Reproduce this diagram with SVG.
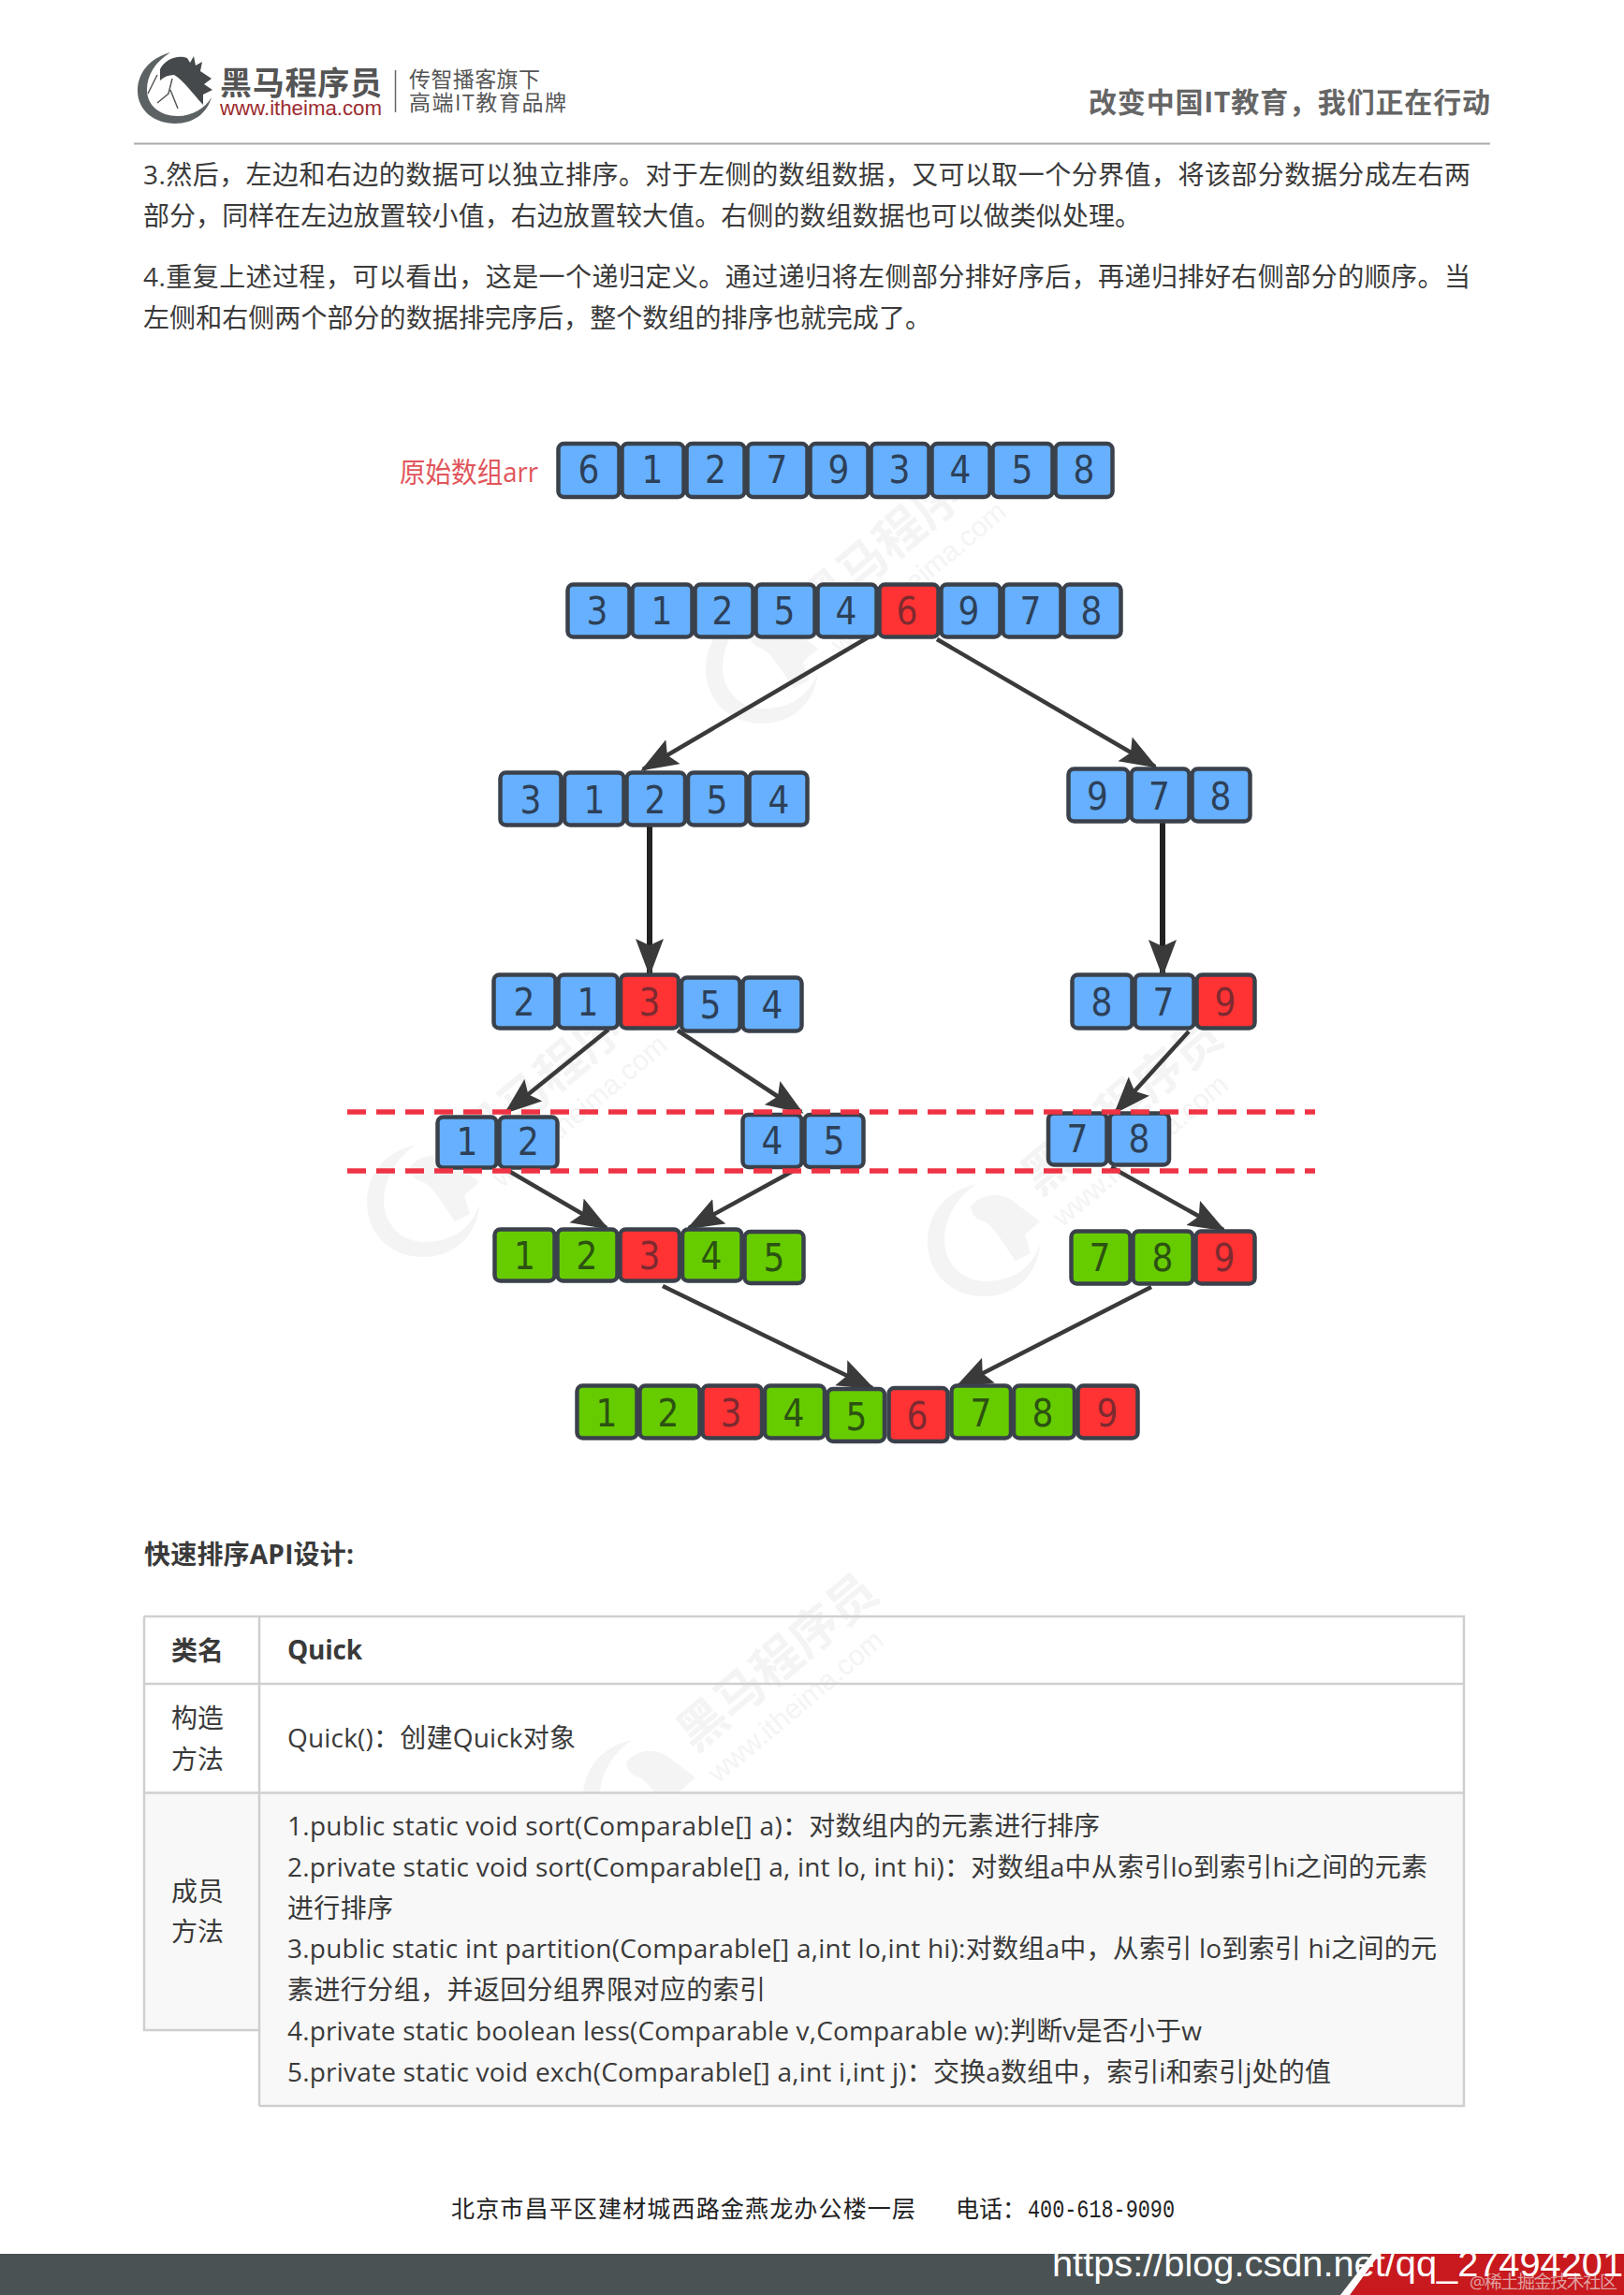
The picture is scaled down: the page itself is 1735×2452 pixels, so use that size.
<svg xmlns="http://www.w3.org/2000/svg" xmlns:xlink="http://www.w3.org/1999/xlink" width="1735" height="2452" viewBox="0 0 1735 2452">
<style>
text{font-family:"Open Sans","Noto Sans CJK SC",sans-serif;fill:#3a3a3a}
.body{font-size:28px}
.b{font-weight:700}
.m{text-anchor:middle}
.cell{stroke:#3a414b;stroke-width:4.5}
.blue{fill:#66b0ff}.red{fill:#ff3333}.green{fill:#66cc00}
.n{font-family:"DejaVu Sans",sans-serif;font-stretch:condensed;font-size:40px;text-anchor:middle;fill:#2d4058}
.nr{fill:#7d2a30}.ng{fill:#2c5212}
.arrow{stroke:#3a3a3a;stroke-width:4.5;fill:none;marker-end:url(#ah)}
.thick{stroke:#222;stroke-width:6;fill:none;marker-end:url(#ah)}
.dash{stroke:#ee3344;stroke-width:5.5;stroke-dasharray:20 11;fill:none}
.tl{stroke:#cfcfcf;stroke-width:2.5;fill:none}
.wm{fill:#f4f4f4;font-family:"Noto Sans CJK SC",sans-serif}
.foot{font-family:"Liberation Serif","Noto Sans CJK SC",serif;font-size:25px;fill:#222}
</style>
<defs>
<marker id="ah" markerUnits="userSpaceOnUse" markerWidth="42" markerHeight="32" refX="37" refY="15" orient="auto">
<path d="M0,0 L40,15 L0,30 L7,15 z" fill="#3a3a3a"/>
</marker>
<g id="wmk">
<path d="M-8,-60 C-42,-52 -60,-28 -60,2 C-60,36 -34,60 0,60 C34,60 58,36 60,4 C52,30 30,44 2,44 C-24,44 -42,24 -42,0 C-42,-24 -28,-46 -8,-60 z" class="wm"/>
<path d="M-14,-36 C-4,-50 20,-54 36,-38 L60,-20 L44,-6 L50,14 L34,22 C22,6 12,-14 0,-20 C-6,-22 -12,-24 -14,-36 z" class="wm"/>
<text class="wm" x="75" y="3" font-size="52" font-weight="700" transform="rotate(-40)">黑马程序员</text>
<text class="wm" x="73" y="44" font-size="30" transform="rotate(-40)" style="font-family:'Liberation Sans',sans-serif">www.itheima.com</text>
</g>
</defs>
<rect width="1735" height="2452" fill="#ffffff"/>
<g id="watermarks">
<use xlink:href="#wmk" href="#wmk" x="814" y="713"/>
<use xlink:href="#wmk" href="#wmk" x="452" y="1283"/>
<use xlink:href="#wmk" href="#wmk" x="1051" y="1325"/>
<use xlink:href="#wmk" href="#wmk" x="683" y="1919"/>
</g>
<g id="header">
<path d="M182,56 C160,62 147,78 147,97 C147,118 165,132 187,132 C207,132 221,121 226,104 C219,116 205,124 190,124 C170,124 157,112 157,96 C157,80 166,66 182,56 z" fill="#5c6163"/>
<path d="M171,74 C176,63 190,58 200,62 L203,67 L207,60 L209,70 L216,66 L214,76 L226,84 L218,90 L227,96 L217,101 L217,112 C206,100 196,86 186,80 C180,80 175,82 171,86 z" fill="#45494b"/>
<path d="M158,100 L168,80 M184,84 L180,100 L168,110 M182,96 L190,116" fill="none" stroke="#55595b" stroke-width="1.5"/>
<text x="235" y="101" font-size="34" font-weight="700" textLength="173" style="fill:#555">黑马程序员</text>
<text x="235" y="123" font-size="22" textLength="173" lengthAdjust="spacingAndGlyphs" style="font-family:'Liberation Sans',sans-serif;fill:#9c2b2f">www.itheima.com</text>
<line x1="422.5" y1="75" x2="422.5" y2="120" stroke="#666" stroke-width="1.5"/>
<text x="437" y="93" font-size="23" textLength="140" style="fill:#555">传智播客旗下</text>
<text x="437" y="118" font-size="23" textLength="168" style="fill:#555">高端IT教育品牌</text>
<text x="1163" y="120" font-size="30" font-weight="700" textLength="429" style="fill:#666">改变中国IT教育，我们正在行动</text>
<line x1="143" y1="153.500" x2="1592" y2="153.500" stroke="#aaaaaa" stroke-width="2"/>
</g>
<g id="paragraphs">
<text class="body" x="153" y="197" textLength="1418">3.然后，左边和右边的数据可以独立排序。对于左侧的数组数据，又可以取一个分界值，将该部分数据分成左右两</text>
<text class="body" x="153" y="241" textLength="1066">部分，同样在左边放置较小值，右边放置较大值。右侧的数组数据也可以做类似处理。</text>
<text class="body" x="153" y="306" textLength="1418">4.重复上述过程，可以看出，这是一个递归定义。通过递归将左侧部分排好序后，再递归排好右侧部分的顺序。当</text>
<text class="body" x="153" y="350" textLength="842">左侧和右侧两个部分的数据排完序后，整个数组的排序也就完成了。</text>
</g>
<text id="label-arr" x="427" y="515" font-size="30" textLength="148" lengthAdjust="spacingAndGlyphs" style="fill:#e0555a">原始数组arr</text>
<g id="connectors">
<line class="arrow" x1="929" y1="680" x2="687" y2="822"/>
<line class="arrow" x1="1001" y1="683" x2="1234" y2="819"/>
<line class="thick" x1="694" y1="882" x2="694" y2="1040"/>
<line class="thick" x1="1242" y1="879" x2="1242" y2="1041"/>
<line class="arrow" x1="650" y1="1100" x2="541" y2="1188"/>
<line class="arrow" x1="724" y1="1101" x2="856" y2="1188"/>
<line class="arrow" x1="1270" y1="1102" x2="1192" y2="1188"/>
<line class="arrow" x1="540" y1="1249" x2="648" y2="1312"/>
<line class="arrow" x1="851" y1="1249" x2="736" y2="1312"/>
<line class="arrow" x1="1187" y1="1247" x2="1307" y2="1314"/>
<line class="arrow" x1="708" y1="1374" x2="932" y2="1483"/>
<line class="arrow" x1="1230" y1="1375" x2="1023" y2="1481"/>
</g>
<g id="node-original">
<rect class="cell blue" x="596.5" y="474" width="65" height="57" rx="6"/><text class="n" x="629" y="516">6</text>
<rect class="cell blue" x="664.500" y="474" width="66" height="57" rx="6"/><text class="n" x="697" y="516">1</text>
<rect class="cell blue" x="733.5" y="474" width="62" height="57" rx="6"/><text class="n" x="764.5" y="516">2</text>
<rect class="cell blue" x="798.5" y="474" width="64" height="57" rx="6"/><text class="n" x="830" y="516">7</text>
<rect class="cell blue" x="865.5" y="474" width="62" height="57" rx="6"/><text class="n" x="896" y="516">9</text>
<rect class="cell blue" x="930.5" y="474" width="62" height="57" rx="6"/><text class="n" x="961" y="516">3</text>
<rect class="cell blue" x="995.5" y="474" width="62" height="57" rx="6"/><text class="n" x="1026" y="516">4</text>
<rect class="cell blue" x="1060.5" y="474" width="64" height="57" rx="6"/><text class="n" x="1092" y="516">5</text>
<rect class="cell blue" x="1127.5" y="474" width="61" height="57" rx="6"/><text class="n" x="1158" y="516">8</text>
</g>
<g id="node-partition">
<rect class="cell blue" x="606.5" y="624.5" width="66" height="56" rx="6"/><text class="n" x="638" y="667">3</text>
<rect class="cell blue" x="675.5" y="624.5" width="64" height="56" rx="6"/><text class="n" x="707" y="667">1</text>
<rect class="cell blue" x="742.5" y="624.5" width="62" height="56" rx="6"/><text class="n" x="772" y="667">2</text>
<rect class="cell blue" x="807.5" y="624.5" width="63" height="56" rx="6"/><text class="n" x="838" y="667">5</text>
<rect class="cell blue" x="873.5" y="624.5" width="63" height="56" rx="6"/><text class="n" x="904" y="667">4</text>
<rect class="cell red" x="939.5" y="624.5" width="63" height="56" rx="6"/><text class="n nr" x="969" y="667">6</text>
<rect class="cell blue" x="1005.5" y="624.5" width="63" height="56" rx="6"/><text class="n" x="1035" y="667">9</text>
<rect class="cell blue" x="1071.5" y="624.5" width="62" height="56" rx="6"/><text class="n" x="1101" y="667">7</text>
<rect class="cell blue" x="1136.5" y="624.5" width="61" height="56" rx="6"/><text class="n" x="1166" y="667">8</text>
</g>
<g id="node-left-1">
<rect class="cell blue" x="534.5" y="825.5" width="65" height="56" rx="6"/><text class="n" x="567" y="869">3</text>
<rect class="cell blue" x="603" y="825.5" width="63.5" height="56" rx="6"/><text class="n" x="635" y="869">1</text>
<rect class="cell blue" x="669.5" y="825.5" width="62.5" height="56" rx="6"/><text class="n" x="700" y="869">2</text>
<rect class="cell blue" x="735" y="825.5" width="62.5" height="56" rx="6"/><text class="n" x="766" y="869">5</text>
<rect class="cell blue" x="800.5" y="825.5" width="62" height="56" rx="6"/><text class="n" x="832" y="869">4</text>
</g>
<g id="node-right-1">
<rect class="cell blue" x="1141.5" y="821.5" width="64" height="56" rx="6"/><text class="n" x="1172.5" y="865">9</text>
<rect class="cell blue" x="1208.5" y="821.5" width="62" height="56" rx="6"/><text class="n" x="1238.5" y="865">7</text>
<rect class="cell blue" x="1273.5" y="821.5" width="62" height="56" rx="6"/><text class="n" x="1304" y="865">8</text>
</g>
<g id="node-left-2">
<rect class="cell blue" x="527.5" y="1041.5" width="66" height="57" rx="6"/><text class="n" x="560" y="1085">2</text>
<rect class="cell blue" x="596.5" y="1041.5" width="63.5" height="57" rx="6"/><text class="n" x="628" y="1085">1</text>
<rect class="cell blue" x="728" y="1044.5" width="62.5" height="57" rx="6"/><text class="n" x="759" y="1088">5</text>
<rect class="cell blue" x="793.5" y="1044.5" width="63" height="57" rx="6"/><text class="n" x="825" y="1088">4</text>
<rect class="cell red" x="663" y="1041.5" width="62" height="57" rx="6"/><text class="n nr" x="694" y="1085">3</text>
</g>
<g id="node-right-2">
<rect class="cell blue" x="1145.5" y="1041.5" width="64" height="57" rx="6"/><text class="n" x="1177" y="1085">8</text>
<rect class="cell blue" x="1212.5" y="1041.5" width="63" height="57" rx="6"/><text class="n" x="1243" y="1085">7</text>
<rect class="cell red" x="1278.5" y="1041.5" width="62" height="57" rx="6"/><text class="n nr" x="1309" y="1085">9</text>
</g>
<g id="node-pair-12">
<rect class="cell blue" x="467.5" y="1193.5" width="63" height="54" rx="6"/><text class="n" x="499" y="1234">1</text>
<rect class="cell blue" x="533.5" y="1193.5" width="62" height="54" rx="6"/><text class="n" x="564.5" y="1234">2</text>
</g>
<g id="node-pair-45">
<rect class="cell blue" x="793.5" y="1191" width="63" height="56" rx="6"/><text class="n" x="825" y="1233">4</text>
<rect class="cell blue" x="859.5" y="1191" width="63" height="56" rx="6"/><text class="n" x="891" y="1233">5</text>
</g>
<g id="node-pair-78">
<rect class="cell blue" x="1120" y="1189.5" width="62.5" height="55" rx="6"/><text class="n" x="1151" y="1231">7</text>
<rect class="cell blue" x="1185.5" y="1189.5" width="63.5" height="55" rx="6"/><text class="n" x="1217" y="1231">8</text>
</g>
<g id="node-merged-left">
<rect class="cell green" x="528.5" y="1313.5" width="64" height="55" rx="6"/><text class="n ng" x="560.5" y="1356">1</text>
<rect class="cell green" x="595.5" y="1313.5" width="64" height="55" rx="6"/><text class="n ng" x="627" y="1356">2</text>
<rect class="cell red" x="662.5" y="1313.5" width="63.5" height="55" rx="6"/><text class="n nr" x="694" y="1356">3</text>
<rect class="cell green" x="729" y="1313.5" width="63.5" height="55" rx="6"/><text class="n ng" x="760" y="1356">4</text>
<rect class="cell green" x="795.5" y="1316" width="63" height="55" rx="6"/><text class="n ng" x="827" y="1358">5</text>
</g>
<g id="node-merged-right">
<rect class="cell green" x="1144.5" y="1315.5" width="63" height="56" rx="6"/><text class="n ng" x="1175" y="1358">7</text>
<rect class="cell green" x="1210.5" y="1315.5" width="64" height="56" rx="6"/><text class="n ng" x="1242" y="1358">8</text>
<rect class="cell red" x="1277.5" y="1315.5" width="63" height="56" rx="6"/><text class="n nr" x="1308" y="1358">9</text>
</g>
<g id="node-sorted">
<rect class="cell green" x="616.5" y="1480.5" width="64" height="56" rx="6"/><text class="n ng" x="648" y="1524">1</text>
<rect class="cell green" x="683.5" y="1480.5" width="64" height="56" rx="6"/><text class="n ng" x="714" y="1524">2</text>
<rect class="cell red" x="750.5" y="1480.5" width="63.5" height="56" rx="6"/><text class="n nr" x="781" y="1524">3</text>
<rect class="cell green" x="817" y="1480.5" width="64" height="56" rx="6"/><text class="n ng" x="848" y="1524">4</text>
<rect class="cell green" x="884" y="1484" width="61" height="56" rx="6"/><text class="n ng" x="915" y="1528">5</text>
<rect class="cell red" x="949.5" y="1483" width="63" height="57" rx="6"/><text class="n nr" x="980" y="1527">6</text>
<rect class="cell green" x="1016.5" y="1480.5" width="63.5" height="56" rx="6"/><text class="n ng" x="1048" y="1524">7</text>
<rect class="cell green" x="1083" y="1480.5" width="65" height="56" rx="6"/><text class="n ng" x="1114" y="1524">8</text>
<rect class="cell red" x="1151.5" y="1480.5" width="64" height="56" rx="6"/><text class="n nr" x="1183" y="1524">9</text>
</g>
<g id="limits">
<line class="dash" x1="371" y1="1188" x2="1405" y2="1188"/>
<line class="dash" x1="371" y1="1251" x2="1405" y2="1251"/>
</g>
<text id="api-heading" class="body b" x="154" y="1671" textLength="224">快速排序API设计:</text>
<g id="api-table">
<rect x="154" y="1915.5" width="123" height="253.500" fill="#f8f8f8"/>
<rect x="277" y="1915.5" width="1287" height="334.500" fill="#f8f8f8"/>
<path class="tl" d="M154,1727 H1564 V2250 H277 M154,1727 V2169 H277 M277,1727 V2250 M154,1799 H1564 M154,1915.5 H1564"/>
<text class="body b m" x="211" y="1774">类名</text>
<text class="body b" x="307" y="1773" textLength="80">Quick</text>
<text class="body m" x="211" y="1846">构造</text>
<text class="body m" x="211" y="1890">方法</text>
<text class="body" x="307" y="1867" textLength="308">Quick()：创建Quick对象</text>
<text class="body m" x="211" y="2031">成员</text>
<text class="body m" x="211" y="2074">方法</text>
<text class="body" x="307" y="1961" textLength="868">1.public static void sort(Comparable[] a)：对数组内的元素进行排序</text>
<text class="body" x="307" y="2005" textLength="1218">2.private static void sort(Comparable[] a, int lo, int hi)：对数组a中从索引lo到索引hi之间的元素</text>
<text class="body" x="307" y="2049" textLength="113">进行排序</text>
<text class="body" x="307" y="2092" textLength="1228">3.public static int partition(Comparable[] a,int lo,int hi):对数组a中，从索引 lo到索引 hi之间的元</text>
<text class="body" x="307" y="2136" textLength="511">素进行分组，并返回分组界限对应的索引</text>
<text class="body" x="307" y="2180" textLength="977">4.private static boolean less(Comparable v,Comparable w):判断v是否小于w</text>
<text class="body" x="307" y="2224" textLength="1115">5.private static void exch(Comparable[] a,int i,int j)：交换a数组中，索引i和索引j处的值</text>
</g>
<g id="footer">
<text class="foot" x="482" y="2369" textLength="496">北京市昌平区建材城西路金燕龙办公楼一层</text>
<text class="foot" x="1021" y="2369">电话：</text>
<text x="1098" y="2369" font-size="28" textLength="157" lengthAdjust="spacingAndGlyphs" style="font-family:'Liberation Mono',monospace;fill:#222">400-618-9090</text>
<rect x="0" y="2408" width="1735" height="44" fill="#4a5254"/>
<path d="M1442,2452 L1474,2408 H1735 V2452 z" fill="#c8191e"/>
<path d="M1432,2452 L1466,2408 H1474 L1442,2452 z" fill="#ffffff"/>
<text x="1570" y="2445" font-size="19" textLength="158" style="fill:#e0a0a0">@稀土掘金技术社区</text>
<text x="1124" y="2432" font-size="39" textLength="610" lengthAdjust="spacingAndGlyphs" style="font-family:'Liberation Sans',sans-serif;fill:#ffffff">https://blog.csdn.net/qq_27494201</text>
</g>
</svg>
